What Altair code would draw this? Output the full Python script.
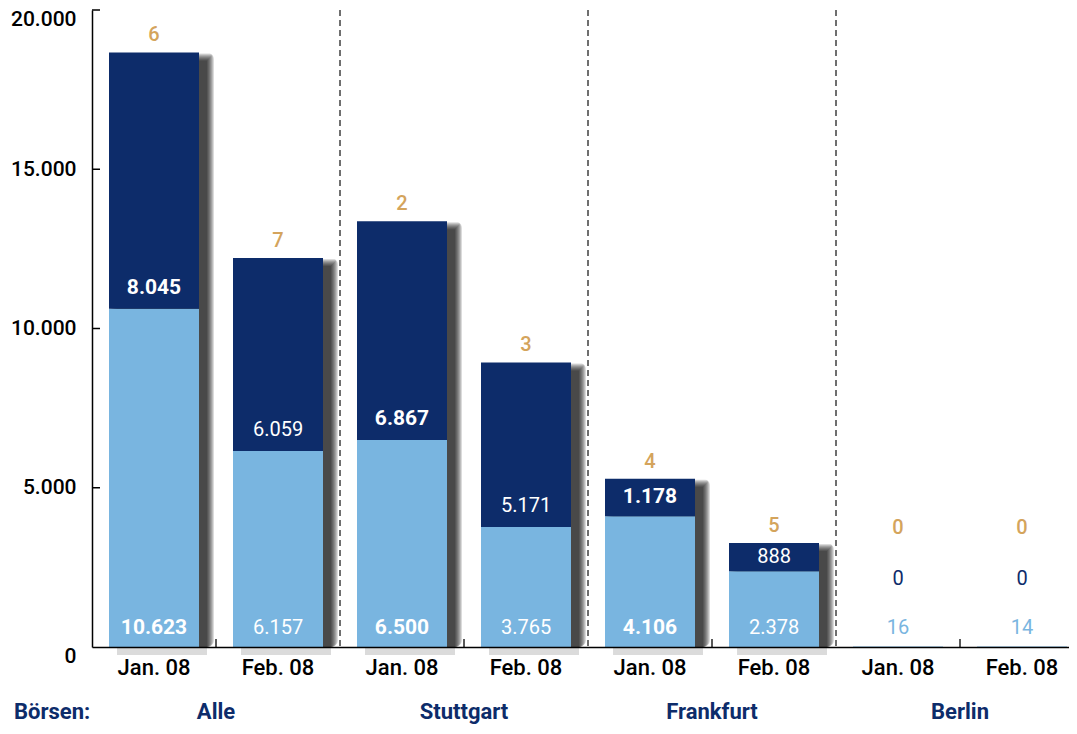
import altair as alt
import pandas as pd

# ---- data ----
groups = ["Alle", "Alle", "Stuttgart", "Stuttgart", "Frankfurt", "Frankfurt", "Berlin", "Berlin"]
months = ["Jan. 08", "Feb. 08", "Jan. 08", "Feb. 08", "Jan. 08", "Feb. 08", "Jan. 08", "Feb. 08"]
light_vals = [10623, 6157, 6500, 3765, 4106, 2378, 16, 14]
dark_vals = [8045, 6059, 6867, 5171, 1178, 888, 0, 0]
counts = [6, 7, 2, 3, 4, 5, 0, 0]
group_names = ["Alle", "Stuttgart", "Frankfurt", "Berlin"]
y_ticks = [0, 5000, 10000, 15000, 20000]

NAVY = "#0d2c6a"
LIGHT = "#79b5e0"
GOLD = "#d4a45c"
FONT = "Roboto"

W = 977
H = 637
HALF = 62  # half category step in px


def de(v):
    return f"{v:,}".replace(",", ".")


cats = [f"{g}|{m}" for g, m in zip(groups, months)]
df = pd.DataFrame({
    "cat": cats,
    "group": groups,
    "month": months,
    "light": light_vals,
    "dark": dark_vals,
    "count": counts,
})
df["total"] = df["light"] + df["dark"]
df["dark_pos"] = [max(l + min(d / 2, 650), 2150) for l, d in zip(light_vals, dark_vals)]
df["gold_pos"] = [max(t, 3200) for t in df["total"]]
df["light_lab"] = [de(v) for v in light_vals]
df["dark_lab"] = [de(v) for v in dark_vals]
df["count_lab"] = [str(c) for c in counts]
df["light_col"] = ["white" if v > 1000 else LIGHT for v in light_vals]
df["dark_col"] = ["white" if v > 300 else NAVY for v in dark_vals]
df["bold"] = [(m.startswith("Jan") and g != "Berlin") for g, m in zip(groups, months)]

xscale = alt.Scale(domain=cats, paddingInner=0.2742, paddingOuter=0.0766, align=0.895)
X = alt.X("cat:N", scale=xscale, sort=cats, axis=alt.Axis(
    title=None, labels=False, ticks=False, domainColor="black", domainWidth=1.5, zindex=1))
Xp = alt.X("cat:N", scale=xscale, sort=cats)
yscale = alt.Scale(domain=[0, 20000], nice=False, zero=True)

# shadows (soft, layered)
shadow_df = df[df["total"] > 100]
shadows = []
for k in range(8):
    shadows.append(
        alt.Chart(shadow_df).mark_bar(
            color="black", opacity=0.14, width=90 + 2 * k, xOffset=8,
            yOffset=8 - k, y2Offset=8 + k, cornerRadius=k
        ).encode(x=Xp, y=alt.Y("total:Q", scale=yscale))
    )

light_bar = alt.Chart(df).mark_bar(color=LIGHT, width=90).encode(
    x=X,
    y=alt.Y("light:Q", scale=yscale, axis=alt.Axis(
        title=None, values=y_ticks, ticks=False, grid=False, domainColor="black",
        domainWidth=1.5, labelFont=FONT, labelFontSize=21, labelFontWeight=500,
        labelColor="black", labelPadding=16, labelBaseline="middle",
        labelExpr="replace(format(datum.value, ','), ',', '.')",
        labelOffset={"condition": {"test": "datum.value == 0 || datum.value == 20000",
                                   "value": 9}, "value": 0})),
)
dark_bar = alt.Chart(df).mark_bar(color=NAVY, width=90).encode(
    x=Xp, y=alt.Y("light:Q", scale=yscale), y2="total:Q")

# dashed separators between exchanges
sep_df = pd.DataFrame({"cat": [cats[1], cats[3], cats[5]]})
seps = alt.Chart(sep_df).mark_rule(
    color="#222", strokeDash=[6, 4], strokeWidth=1.3, xOffset=HALF
).encode(x=Xp, y=alt.value(0), y2=alt.value(H))

# inner ticks on x axis
xt_df = pd.DataFrame({"cat": [cats[0], cats[2], cats[4], cats[6]]})
xticks = alt.Chart(xt_df).mark_rule(color="black", strokeWidth=1.3, xOffset=HALF).encode(
    x=Xp, y=alt.value(H - 8), y2=alt.value(H))

# inner ticks on y axis
yt_df = pd.DataFrame({"v": y_ticks[1:]})
yticks = alt.Chart(yt_df).mark_rule(color="black", strokeWidth=1.5).encode(
    y=alt.Y("v:Q", scale=yscale), x=alt.value(0), x2=alt.value(8))

# month labels under bars
mlabels = alt.Chart(df).mark_text(
    font=FONT, fontSize=22, fontWeight=500, color="black"
).encode(x=Xp, y=alt.value(H + 21), text="month:N")

labels = []
for is_bold in [True, False]:
    sub = df[df["bold"] == is_bold]
    weight = "bold" if is_bold else "normal"
    size = 21 if is_bold else 20
    base = alt.Chart(sub)
    labels.append(base.mark_text(color=GOLD, font=FONT, fontSize=20, fontWeight=500, dy=-17).encode(
        x=Xp, y=alt.Y("gold_pos:Q", scale=yscale), text="count_lab:N"))
    labels.append(base.mark_text(font=FONT, fontSize=size, fontWeight=weight).encode(
        x=Xp, y=alt.Y("dark_pos:Q", scale=yscale), text="dark_lab:N",
        color=alt.Color("dark_col:N", scale=None)))
    labels.append(base.mark_text(font=FONT, fontSize=size, fontWeight=weight, dy=-19).encode(
        x=Xp, y=alt.Y(datum=0, scale=yscale), text="light_lab:N",
        color=alt.Color("light_col:N", scale=None)))

grp_df = pd.DataFrame({"cat": [cats[0], cats[2], cats[4], cats[6]], "g": group_names})
grp = alt.Chart(grp_df).mark_text(
    color=NAVY, font=FONT, fontSize=22, fontWeight="bold", xOffset=HALF
).encode(x=Xp, y=alt.value(H + 65), text="g:N")

boersen = alt.Chart(pd.DataFrame({"t": ["Börsen:"]})).mark_text(
    color=NAVY, font=FONT, fontSize=22, fontWeight="bold", align="left"
).encode(x=alt.value(-78), y=alt.value(H + 65), text="t:N")

chart = alt.layer(
    *shadows, light_bar, dark_bar, seps, xticks, yticks, mlabels, *labels, grp, boersen
).properties(
    width=W, height=H,
    autosize=alt.AutoSizeParams(type="none"),
    padding={"left": 84, "top": 2, "right": 0, "bottom": 77},
).configure_view(stroke=None).configure_axis(labelFont=FONT)

chart.save("out.html", embed_options={"renderer": "svg", "actions": False})
